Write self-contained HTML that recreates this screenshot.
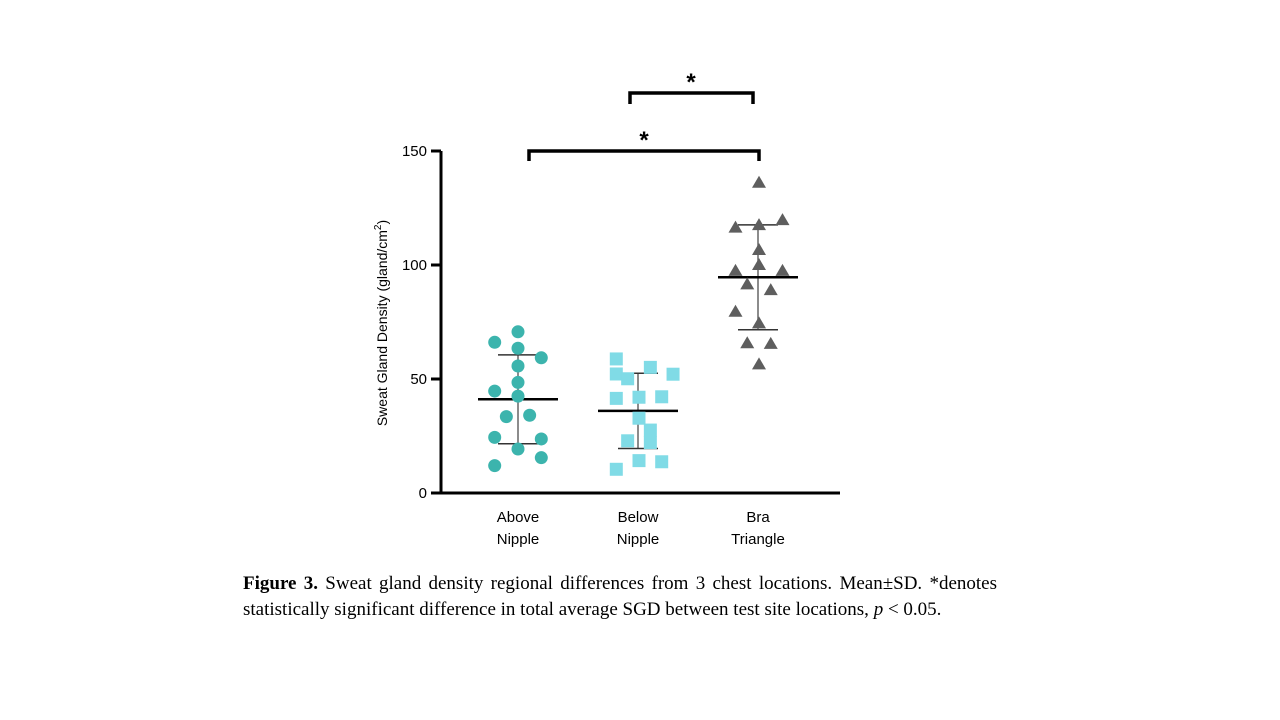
<!DOCTYPE html>
<html><head><meta charset="utf-8"><style>
body{margin:0;background:#fff;width:1280px;height:720px;overflow:hidden;position:relative}
svg{position:absolute;left:0;top:0}
#cap{position:absolute;left:243px;top:571px;width:754px;font-family:"Liberation Serif",serif;font-size:19px;line-height:26px;text-align:justify;color:#000}
</style></head><body>
<svg width="1280" height="720" id="chart"></svg>
<div id="cap"><b>Figure 3.</b> Sweat gland density regional differences from 3 chest locations. Mean±SD. *denotes statistically significant difference in total average SGD between test site locations, <i>p</i> &lt; 0.05.</div>
<script>
const categories=["Above Nipple","Below Nipple","Bra Triangle"];
const aboveX=[0,-1,0,1,0,0,-1,0,-0.5,0.5,-1,1,0,1,-1];
const aboveY=[70.7,66.1,63.5,59.3,55.7,48.5,44.7,42.5,33.5,34.1,24.4,23.7,19.3,15.5,12.0];
const belowX=[-1,-1,0.5,1.5,-0.5,-1,0,1,0,0.5,-0.5,0.5,0,1,-1];
const belowY=[58.8,52.2,55.1,52.1,50.1,41.5,42.0,42.2,32.8,27.6,22.9,22.1,14.2,13.7,10.4];
const braX=[0,1,-1,0,0,0,-1,1,-0.5,0.5,-1,0,-0.5,0.5,0];
const braY=[136.1,119.7,116.4,117.5,106.6,100,97.4,97.4,91.5,89.0,79.5,74.4,65.7,65.4,56.4];
const means=[41.1,36.0,94.6];
const sds=[19.5,16.5,23.0];
const yTicks=[0,50,100,150];
const NS="http://www.w3.org/2000/svg";
const svg=document.getElementById('chart');
const y=v=>493-v*2.28;
const cx=i=>518+i*120;
function mk(t,a,p){const e=document.createElementNS(NS,t);for(const k in a)e.setAttribute(k,a[k]);(p||svg).appendChild(e);return e;}
// axes
let ax=mk('line',{x1:441,y1:151,x2:441,y2:494,stroke:'#000','stroke-width':3});


let xa=mk('line',{x1:440,y1:493,x2:840,y2:493,stroke:'#000','stroke-width':3});


yTicks.forEach(t=>{
 let l=mk('line',{x1:431,y1:y(t),x2:441,y2:y(t),stroke:'#000','stroke-width':3});
 
 
 let tx=mk('text',{x:427,y:y(t)+5,'text-anchor':'end','font-size':15,'font-family':'Liberation Sans, sans-serif'});
 tx.textContent=t;
 
 
});
let yt=mk('text',{transform:'translate(387,323) rotate(-90)','text-anchor':'middle','font-size':14,'font-family':'Liberation Sans, sans-serif'});
yt.innerHTML='Sweat Gland  Density (gland/cm<tspan dy="-6" font-size="10">2</tspan><tspan dy="6">)</tspan>';


categories.forEach((c,i)=>{
 const w=c.split(' ');
 w.forEach((s,j)=>{
  let tx=mk('text',{x:cx(i),y:522+j*22,'text-anchor':'middle','font-size':15,'font-family':'Liberation Sans, sans-serif'});
  tx.textContent=s;
  
  
 });
});
// error bars and means
means.forEach((m,i)=>{
 const g=mk('g',{});
 
 
 mk('line',{x1:cx(i),y1:y(m+sds[i]),x2:cx(i),y2:y(m-sds[i]),stroke:'#666','stroke-width':1.5},g);
 mk('line',{x1:cx(i)-20,y1:y(m+sds[i]),x2:cx(i)+20,y2:y(m+sds[i]),stroke:'#333','stroke-width':1.5},g);
 mk('line',{x1:cx(i)-20,y1:y(m-sds[i]),x2:cx(i)+20,y2:y(m-sds[i]),stroke:'#333','stroke-width':1.5},g);
 mk('line',{x1:cx(i)-40,y1:y(m),x2:cx(i)+40,y2:y(m),stroke:'#000','stroke-width':2.5},g);
});
// points
aboveY.forEach((v,k)=>{
 let c=mk('circle',{cx:cx(0)+aboveX[k]*23.3,cy:y(v),r:6.5,fill:'#3cb4ad'});
 
 
});
belowY.forEach((v,k)=>{
 let r=mk('rect',{x:cx(1)+1+belowX[k]*22.7-6.5,y:y(v)-6.5,width:13,height:13,fill:'#80dbe6'});
 
 
});
braY.forEach((v,k)=>{
 const px=cx(2)+1+braX[k]*23.5,py=y(v);
 let p=mk('polygon',{points:`${px},${py-7} ${px-7},${py+5} ${px+7},${py+5}`,fill:'#5e5e5e'});
 
 
});
// brackets
function bracket(x1,x2,yy,yb,sy,sx){
 let b=mk('polyline',{points:`${x1},${yb} ${x1},${yy} ${x2},${yy} ${x2},${yb}`,fill:'none',stroke:'#000','stroke-width':3.5});
 
 
 let s=mk('text',{x:sx,y:sy,'text-anchor':'middle','font-size':24,'font-weight':'bold','font-family':'Liberation Sans, sans-serif'});
 s.textContent='*';
 
 
}
bracket(529,759,151,161,148,644);
bracket(630,753,93,104,90,691);
</script>
</body></html>
